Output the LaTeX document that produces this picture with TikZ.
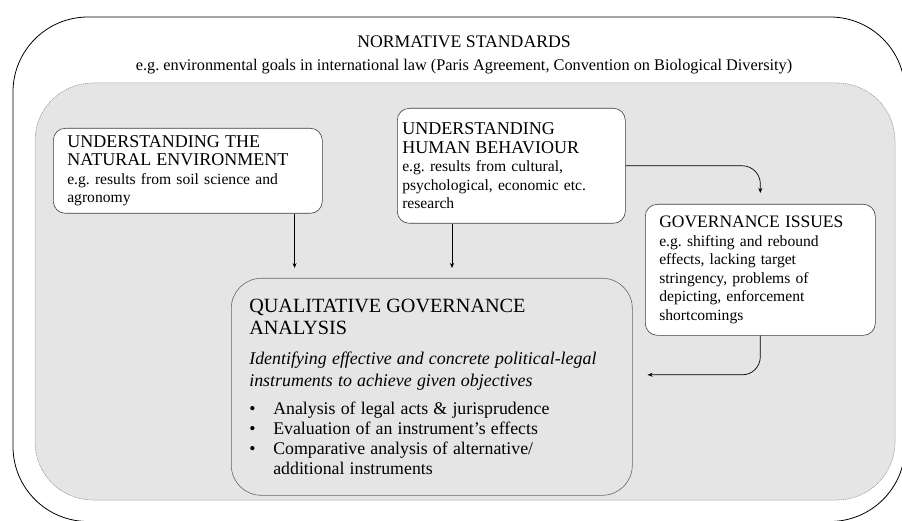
\documentclass[tikz,border=0pt]{standalone}
\usepackage{fontspec}
\setmainfont{Liberation Serif}
\usetikzlibrary{arrows.meta}
\frenchspacing

\begin{document}
\begin{tikzpicture}[x=1pt,y=-1pt,
    card/.style={draw=black!75,fill=white,line width=0.6pt,rounded corners=12pt,
        anchor=north west,align=left,inner ysep=0pt,
        font=\fontsize{15.6}{18.5}\selectfont},
    flow/.style={-{Stealth[length=5pt,width=4pt]},line width=0.7pt,rounded corners=18pt}]
\useasboundingbox (0,0) rectangle (902,521);
% frame of the norms and the shaded field of research
\draw[line width=0.8pt,rounded corners=75pt] (13,17) rectangle (905,521.5);
\draw[black!45,fill=black!10,line width=0.5pt,dash pattern=on 1.2pt off 0.8pt,
    rounded corners=58pt] (35,83) rectangle (895,500);

\node[anchor=base,font=\fontsize{17.7}{20}\selectfont] (norm) at (464,48) {NORMATIVE STANDARDS};
\node[anchor=base,font=\fontsize{16.3}{18}\selectfont] (normeg) at (464,71)
    {e.g. environmental goals in international law (Paris Agreement, Convention on Biological Diversity)};

\node[card,minimum width=269pt,minimum height=85pt,text width=241pt,inner xsep=14pt]
    (nature) at (53,128)
    {{\fontsize{18}{18.5}\selectfont UNDERSTANDING THE\\ NATURAL ENVIRONMENT}\\
     e.g. results from soil science and\\ agronomy};
\node[card,minimum width=228pt,minimum height=115pt,text width=218pt,inner xsep=5pt]
    (human) at (397,108)
    {{\fontsize{18}{18.5}\selectfont UNDERSTANDING\\ HUMAN BEHAVIOUR}\\
     e.g. results from cultural,\\ psychological, economic etc.\\ research};
\node[card,minimum width=230pt,minimum height=131pt,text width=202pt,inner xsep=14pt]
    (issues) at (645,204)
    {{\fontsize{17.5}{18.5}\selectfont GOVERNANCE ISSUES}\\
     e.g. shifting and rebound\\ effects, lacking target\\ stringency, problems of\\
     depicting, enforcement\\ shortcomings};

\node[card,fill=none,draw=black!60,rounded corners=30pt,minimum width=401pt,
    minimum height=217pt,text width=365pt,inner xsep=18pt] (qga) at (231,278)
    {{\fontsize{20.2}{22}\selectfont QUALITATIVE GOVERNANCE\\ ANALYSIS\par}
     \vspace{8pt}
     {\fontsize{17.9}{22}\selectfont\itshape Identifying effective and concrete political-legal\\
      instruments to achieve given objectives\par}
     \vspace{8pt}
     {\fontsize{17.8}{20}\selectfont
      \makebox[24pt][l]{\textbullet}Analysis of legal acts \& jurisprudence\\
      \makebox[24pt][l]{\textbullet}Evaluation of an instrument’s effects\\
      \makebox[24pt][l]{\textbullet}Comparative analysis of alternative/\\
      \hspace*{24pt}additional instruments\par}};

% connectors
\coordinate (natfoot) at ([xshift=-28pt]nature.south east);
\coordinate (humfoot) at ([xshift=55pt]human.south west);
\coordinate (qgain) at ([yshift=12pt]qga.east);
\draw[flow,shorten >=10pt] (natfoot) -- (natfoot |- qga.north);
\draw[flow,shorten >=10pt] (humfoot) -- (humfoot |- qga.north);
\draw[flow,shorten >=11pt] (human.east) -| (issues.north);
\draw[flow,shorten >=15pt] (issues.south) |- (qgain);
\end{tikzpicture}
\end{document}
